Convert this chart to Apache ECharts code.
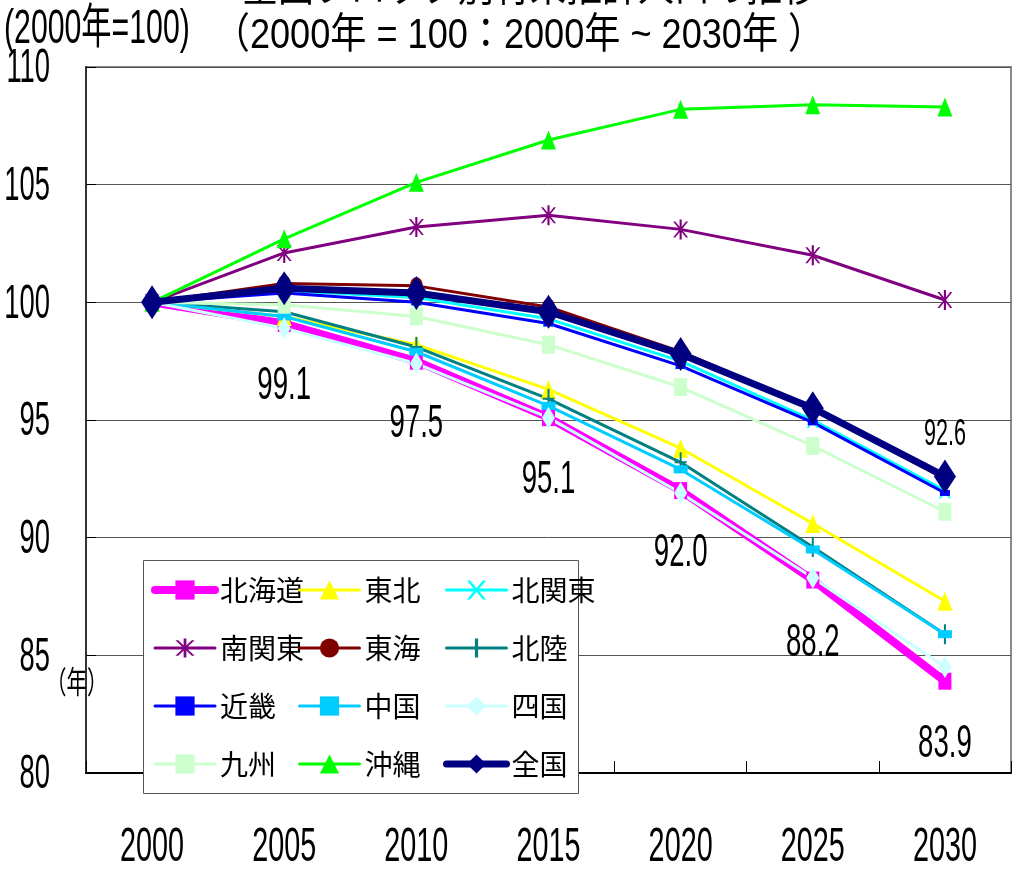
<!DOCTYPE html>
<html>
<head>
<meta charset="utf-8">
<script src="https://cdn.jsdelivr.net/npm/echarts@6/dist/echarts.min.js"></script>
<style>
  html, body { margin: 0; padding: 0; background: #fff; }
  #chart { width: 1017px; height: 874px; }
</style>
</head>
<body>
<div id="chart"></div>
<script>
// 全国ブロック別将来推計人口の推移（2000年 = 100）
const years = ['2000', '2005', '2010', '2015', '2020', '2025', '2030'];
const yTicks = [80, 85, 90, 95, 100, 105, 110];

const hokkaido    = [100, 99.1, 97.5, 95.1, 92.0, 88.2, 83.9];
const tohoku      = [100, 99.4, 98.2, 96.3, 93.8, 90.6, 87.3];
const kitaKanto   = [100, 100.5, 100.2, 99.3, 97.5, 95.0, 92.0];
const minamiKanto = [100, 102.1, 103.2, 103.7, 103.1, 102.0, 100.1];
const tokai       = [100, 100.8, 100.7, 99.8, 97.9, 95.5, 92.5];
const hokuriku    = [100, 99.6, 98.1, 95.9, 93.2, 89.6, 85.9];
const kinki       = [100, 100.4, 100.0, 99.1, 97.3, 94.9, 91.9];
const chugoku     = [100, 99.4, 97.9, 95.6, 92.9, 89.5, 85.9];
const shikoku     = [100, 98.9, 97.4, 95.1, 91.9, 88.3, 84.5];
const kyushu      = [100, 99.9, 99.4, 98.2, 96.4, 93.9, 91.1];
const okinawa     = [100, 102.7, 105.1, 106.9, 108.2, 108.4, 108.3];
const zenkoku     = [100, 100.6, 100.4, 99.6, 97.8, 95.5, 92.6];

// marker shapes not built into ECharts
const SYM_X = 'path://M0,0L2,0L12,16L10,16ZM10,0L12,0L2,16L0,16Z';
const SYM_STAR = 'path://M0,2L2,2L14,18L12,18ZM12,2L14,2L2,18L0,18ZM6,0L8,0L8,20L6,20Z';
const SYM_PLUS = 'path://M5,0L7,0L7,20L5,20ZM0,9L12,9L12,11L0,11Z';

const seriesDefs = [
  { name: '北海道', data: hokkaido,    color: '#ff00ff', width: 8, symbol: 'rect',     size: [13, 17] },
  { name: '東北',   data: tohoku,      color: '#ffff00', width: 3, symbol: 'triangle', size: [15, 19] },
  { name: '北関東', data: kitaKanto,   color: '#00ffff', width: 3, symbol: SYM_X,      size: [12, 16] },
  { name: '南関東', data: minamiKanto, color: '#800080', width: 3, symbol: SYM_STAR,   size: [15, 20] },
  { name: '東海',   data: tokai,       color: '#800000', width: 3, symbol: 'circle',   size: [13, 17] },
  { name: '北陸',   data: hokuriku,    color: '#008080', width: 3, symbol: SYM_PLUS,   size: [12, 20] },
  { name: '近畿',   data: kinki,       color: '#0000ff', width: 3, symbol: 'rect',     size: [10, 6] },
  { name: '中国',   data: chugoku,     color: '#00ccff', width: 3, symbol: 'rect',     size: [14, 8] },
  { name: '四国',   data: shikoku,     color: '#ccffff', width: 3, symbol: 'diamond',  size: [13, 22] },
  { name: '九州',   data: kyushu,      color: '#ccffcc', width: 3, symbol: 'rect',     size: [13, 18] },
  { name: '沖縄',   data: okinawa,     color: '#00ff00', width: 3, symbol: 'triangle', size: [15, 19] },
  { name: '全国',   data: zenkoku,     color: '#000080', width: 7, symbol: 'diamond',  size: [22, 34] }
];

const legendCols = [
  ['北海道', '南関東', '近畿', '九州'],
  ['東北', '東海', '中国', '沖縄'],
  ['北関東', '北陸', '四国', '全国']
];
const legendX = [146, 293, 438];

const FONT = "'Liberation Sans', 'Noto Sans CJK JP', sans-serif";
const GRID = { left: 86, right: 6, top: 67, bottom: 101 };

function legendItem(name) {
  const s = seriesDefs.find(d => d.name === name);
  return { name: name, lineStyle: { width: s.width, color: s.color, cap: 'round' } };
}

const chart = echarts.init(document.getElementById('chart'), null, { renderer: 'canvas' });

const option = {
  animation: false,
  backgroundColor: '#ffffff',
  grid: Object.assign({ show: true, borderColor: '#8a8a8a', borderWidth: 2, backgroundColor: 'transparent', containLabel: false }, GRID),
  xAxis: {
    type: 'category',
    data: years,
    boundaryGap: true,
    axisLine: { lineStyle: { color: '#000', width: 2 } },
    axisTick: { show: true, inside: true, length: 12, lineStyle: { color: '#000', width: 1 } },
    axisLabel: { show: false },
    splitLine: { show: false }
  },
  yAxis: {
    type: 'value',
    min: 80, max: 110, interval: 5,
    axisLine: { show: true, lineStyle: { color: '#333', width: 2 } },
    axisTick: { show: true, inside: true, length: 10, lineStyle: { color: '#000' } },
    axisLabel: { show: false },
    splitLine: { show: true, lineStyle: { color: '#555', width: 1 } }
  },
  legend: legendCols.map((col, i) => ({
    orient: 'vertical',
    left: legendX[i],
    top: 571,
    data: col.map(legendItem),
    itemWidth: 60,
    itemHeight: 24,
    itemGap: 30,
    z: 20,
    selectedMode: false,
    textStyle: { fontFamily: "'Noto Sans CJK JP', sans-serif", fontSize: 28, color: '#000' }
  })),
  series: seriesDefs.map(s => ({
    name: s.name,
    type: 'line',
    data: s.data,
    symbol: s.symbol,
    symbolSize: s.size,
    showSymbol: true,
    lineStyle: { color: s.color, width: s.width },
    itemStyle: { color: s.color, borderWidth: 0 },
    emphasis: { disabled: true }
  }))
};

chart.setOption(option);

// Text drawn as graphic elements so it can be condensed horizontally
function txt(x, y, str, size, align, sx) {
  return {
    type: 'text', x: x, y: y, scaleX: sx, z: 30,
    style: {
      text: str, fontFamily: FONT, fontSize: size, fill: '#000',
      align: align, textAlign: align, verticalAlign: 'middle', textVerticalAlign: 'middle'
    }
  };
}

const g = [];
// legend frame
g.push({
  type: 'rect', z: 15,
  shape: { x: 143.5, y: 560.5, width: 435, height: 233 },
  style: { fill: '#ffffff', stroke: '#555', lineWidth: 1 }
});

// y tick labels
yTicks.forEach(v => {
  const p = chart.convertToPixel({ gridIndex: 0 }, [0, v]);
  g.push(txt(50, p[1] + 2, String(v), 48, 'right', 0.57));
});
// x category labels
years.forEach((yr, i) => {
  const p = chart.convertToPixel({ gridIndex: 0 }, [i, 80]);
  g.push(txt(p[0], 848, yr, 48, 'center', 0.6));
});

// value labels on 北海道 and 全国
hokkaido.forEach((v, i) => {
  if (i === 0) return;
  const p = chart.convertToPixel({ gridIndex: 0 }, [i, v]);
  g.push(txt(p[0], p[1] + 63, v.toFixed(1), 46, 'center', 0.6));
});
{
  const last = zenkoku.length - 1;
  const p = chart.convertToPixel({ gridIndex: 0 }, [last, zenkoku[last]]);
  g.push(txt(p[0], p[1] - 41, zenkoku[last].toFixed(1), 36, 'center', 0.6));
}

// titles and axis units
g.push(txt(530, -10, '全国ブロック別将来推計人口の推移', 40, 'center', 0.9));
g.push(txt(519, 36, '（2000年 = 100：2000年 ~ 2030年 ）', 42, 'center', 0.86));
g.push(txt(4, 30, '(2000年=100)', 48, 'left', 0.63));
g.push(txt(46, 684, '（年）', 31, 'left', 0.66));

chart.setOption({ graphic: g });
</script>
</body>
</html>
